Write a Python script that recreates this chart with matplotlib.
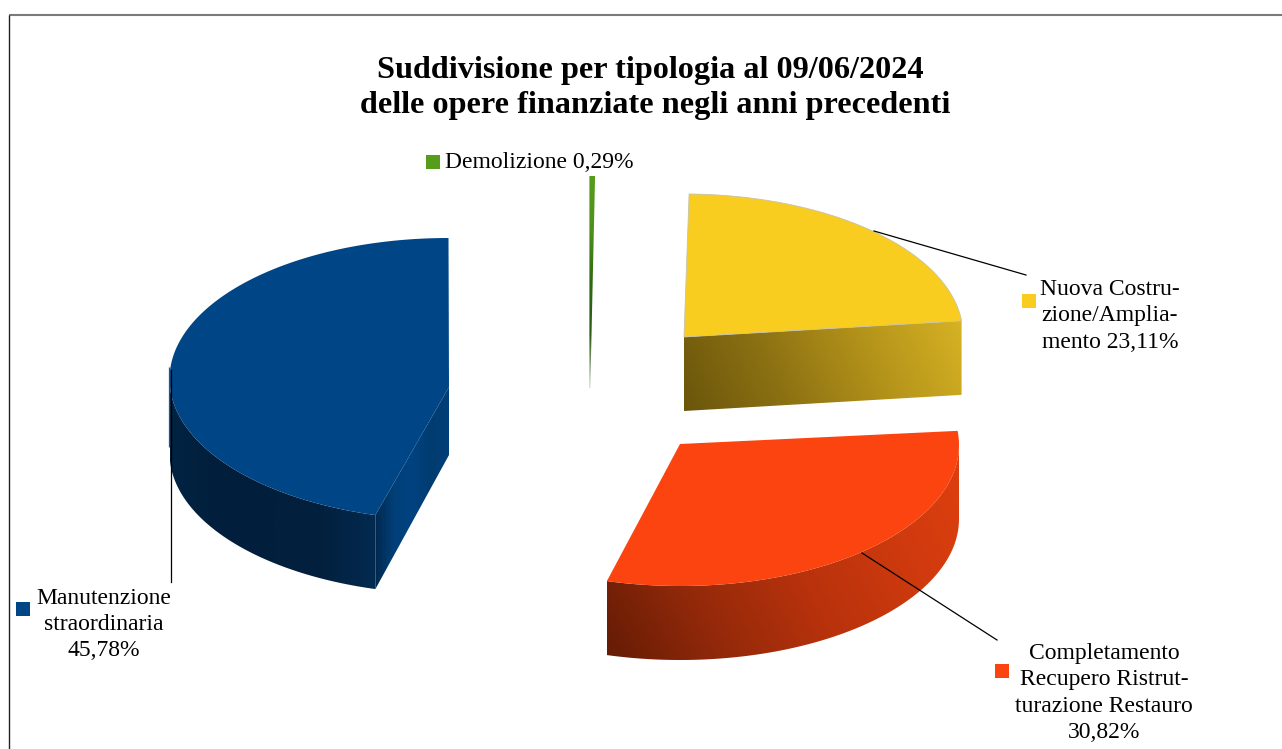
import numpy as np
import matplotlib
matplotlib.use("Agg")
import matplotlib.pyplot as plt
from matplotlib.colors import LinearSegmentedColormap
from matplotlib.patches import Polygon, Rectangle

plt.rcParams['font.family'] = ['Liberation Serif', 'DejaVu Serif']

# ---- data ----
categories = ["Demolizione", "Nuova Costruzione/Ampliamento",
              "Completamento Recupero Ristrutturazione Restauro",
              "Manutenzione straordinaria"]
shares = [0.29, 23.11, 30.82, 45.78]
share_labels = ["0,29%", "23,11%", "30,82%", "45,78%"]
title_lines = ["Suddivisione per tipologia al 09/06/2024",
               "delle opere finanziate negli anni precedenti"]

# ---- style / layout ----
colors = ["#579d1c", "#f9cd1f", "#fb440f", "#004586"]
RX, RY, DEPTH = 279.0, 141.0, 74.0
ellipse_centers = [(590, 317), (684, 335), (680, 445), (448.5, 379)]
apexes = [(590, 317), (684, 337), (680, 444), (449, 387)]

W, H = 1282, 749
fig = plt.figure(figsize=(W / 100, H / 100), dpi=100, facecolor="white")
ax = fig.add_axes([0, 0, 1, 1])
ax.set_axis_off()

cum = np.concatenate([[0], np.cumsum(shares)]) / np.sum(shares) * 360.0


def arc(center, a0, a1, dy=0.0, n=160):
    t = np.radians(np.linspace(a0, a1, n))
    return np.column_stack([center[0] + RX * np.sin(t),
                            center[1] - RY * np.cos(t) + dy])


def gradient_fill(pts, stops, vertical=False, tilt=0.0, z=2):
    """Fill a polygon with a linear gradient; tilt mixes in the upward direction."""
    pts = np.asarray(pts)
    x0, x1 = pts[:, 0].min(), pts[:, 0].max()
    y0, y1 = pts[:, 1].min(), pts[:, 1].max()
    cmap = LinearSegmentedColormap.from_list("g", stops)
    if vertical:
        g = np.linspace(0, 1, 256)[:, None]
    else:
        gx, gy = np.meshgrid(np.linspace(0, 1, 256), np.linspace(0, 1, 128))
        g = (gx + tilt * (1 - gy)) / (1 + tilt)
    im = ax.imshow(g, cmap=cmap, extent=(x0, x1, y1, y0), aspect="auto",
                   zorder=z, interpolation="bilinear", vmin=0, vmax=1)
    clip = Polygon(pts, closed=True, transform=ax.transData, fill=False, lw=0)
    ax.add_patch(clip)
    im.set_clip_path(clip)


def top_face(i):
    a = arc(ellipse_centers[i], cum[i], cum[i + 1])
    return np.vstack([[apexes[i]], a])


def outer_side(i, a0, a1):
    top = arc(ellipse_centers[i], a0, a1)
    bottom = arc(ellipse_centers[i], a1, a0, dy=DEPTH)
    return np.vstack([top, bottom])


def cut_face(p, q, depth_p=DEPTH, depth_q=DEPTH):
    p, q = np.array(p, float), np.array(q, float)
    return np.array([p, q, q + [0, depth_q], p + [0, depth_p]])


# Demolizione
ct = ellipse_centers[0]
end = arc(ct, cum[0], cum[1])[-1]
gradient_fill(np.array([[apexes[0][0] - 0.6, apexes[0][1] - RY],
                        [end[0], end[1]],
                        [apexes[0][0] + 0.3, apexes[0][1] + DEPTH - 3],
                        [apexes[0][0] - 0.6, apexes[0][1] + DEPTH - 3]]),
              ["#579d1c", "#4f9118", "#2f6a12", "#2b5a14", "#c9d3c2"], vertical=True)

# Nuova Costruzione / Ampliamento
p_end = arc(ellipse_centers[1], cum[1], cum[2])[-1]
gradient_fill(cut_face(apexes[1], p_end), ["#6a550b", "#8c7113", "#b4931a", "#d6b224"], tilt=0.15)
ax.add_patch(Polygon(top_face(1), closed=True, fc=colors[1], ec="#c6c2aa", lw=0.6, zorder=3))

# Completamento: the side starts at the rightmost point of the ellipse
red_right = arc(ellipse_centers[2], 90, 90, n=1)[0]
red_side = np.vstack([[[red_right[0], apexes[2][1] - 14]], outer_side(2, 90, cum[3])])
gradient_fill(red_side, ["#651c05", "#93290a", "#b8320c", "#cf3a0e", "#e0400f"], tilt=0.35)
ax.add_patch(Polygon(top_face(2), closed=True, fc=colors[2], ec="none", zorder=3))

# Manutenzione
p_start = arc(ellipse_centers[3], cum[3], cum[4])[0]
gradient_fill(outer_side(3, cum[3], 270),
              ["#022342", "#011f3c", "#021f3c", "#02213f", "#032a50"])
gradient_fill(cut_face(p_start, apexes[3], DEPTH, 68),
              ["#01284d", "#013f77", "#004281", "#013c70", "#013f78"])
ax.add_patch(Polygon(top_face(3), closed=True, fc=colors[3], ec="none", zorder=3))
left_x = ellipse_centers[3][0] - RX
ax.plot([left_x - 0.2] * 2, [ellipse_centers[3][1] - 12, ellipse_centers[3][1] + DEPTH - 6],
        color="#2a5580", lw=0.9, zorder=4, solid_capstyle="butt")

# leader lines (label anchor to slice)
ax.plot([874, 1026], [231, 275], color="black", lw=0.9, zorder=5)
ax.plot([862, 997], [553, 640], color="black", lw=0.9, zorder=5)
ax.plot([171, 171], [370, 582], color="black", lw=0.9, zorder=5)

# legend keys
for (x, y), c in zip([(426, 155), (1022, 294), (995, 664), (16, 602)], colors):
    ax.add_patch(Rectangle((x, y), 14, 14, fc=c, ec="none", zorder=5))

# labels
FS = 17.0


def text_block(lines, cx, first_baseline, step, **kw):
    for k, s in enumerate(lines):
        ax.text(cx, first_baseline + k * step, s, ha="center", va="baseline", zorder=6, **kw)


ax.text(445, 168.5, f"{categories[0]} {share_labels[0]}", fontsize=FS, ha="left", va="baseline", zorder=6)
text_block(["Nuova Costru-", "zione/Amplia-", f"mento {share_labels[1]}"], 1110, 295, 26.5, fontsize=FS)
text_block(["Completamento", "Recupero Ristrut-", "turazione Restauro", share_labels[2]], 1104, 659, 26.3, fontsize=FS)
text_block(["Manutenzione", "straordinaria", share_labels[3]], 103.5, 603.5, 26, fontsize=FS)

# title
ax.text(650.5, 78, title_lines[0], fontsize=23.2, fontweight="bold", ha="center", va="baseline", zorder=6)
ax.text(655, 113, title_lines[1], fontsize=23.2, fontweight="bold", ha="center", va="baseline", zorder=6)

# frame
ax.plot([9, W], [15, 15], color="#7a7a7a", lw=1.5, zorder=7, solid_capstyle="butt")
ax.plot([9, 9], [15, H], color="#222222", lw=1.0, zorder=7, solid_capstyle="butt")

ax.set_xlim(0, W)
ax.set_ylim(H, 0)
fig.savefig("out.png", dpi=100, facecolor="white")
